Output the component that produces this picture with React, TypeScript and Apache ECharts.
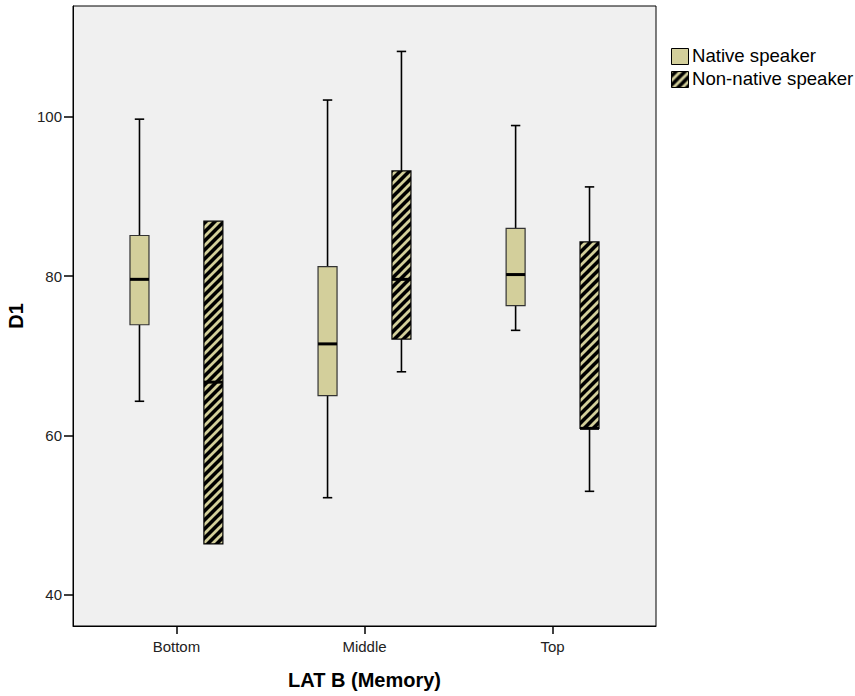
import React, { useEffect, useRef } from "react";
import * as echarts from "echarts";

const categories = ["Bottom", "Middle", "Top"];
const categoryPositions = [1, 2, 3];
// [min, Q1, median, Q3, max]
const nativeStats = [
  [64.3, 73.9, 79.6, 85.1, 99.7],
  [52.2, 65.0, 71.5, 81.2, 102.1],
  [73.2, 76.3, 80.2, 86.0, 98.9],
];
const nonNativeStats = [
  [46.4, 46.4, 66.7, 86.9, 86.9],
  [68.0, 72.1, 79.6, 93.2, 108.2],
  [53.0, 60.9, 60.9, 84.3, 91.2],
];
const yTicks = [40, 60, 80, 100];
const seriesNames = ["Native speaker", "Non-native speaker"];

const KHAKI = "#d3cf9b";
const FONT = "'Liberation Sans', Arial, Helvetica, sans-serif";

function makeHatch(): HTMLCanvasElement {
  const n = 9;
  const c = document.createElement("canvas");
  c.width = n;
  c.height = n;
  const ctx = c.getContext("2d")!;
  ctx.fillStyle = "#000";
  ctx.fillRect(0, 0, n, n);
  ctx.strokeStyle = KHAKI;
  ctx.lineWidth = 2.8;
  ctx.lineCap = "square";
  const seg = (x1: number, y1: number, x2: number, y2: number) => {
    ctx.beginPath();
    ctx.moveTo(x1, y1);
    ctx.lineTo(x2, y2);
    ctx.stroke();
  };
  seg(-2, n + 2, n + 2, -2);
  seg(-2, 2, 2, -2);
  seg(n - 2, n + 2, n + 2, n - 2);
  return c;
}

export default function App() {
  const ref = useRef<HTMLDivElement>(null);
  useEffect(() => {
    if (!ref.current) return;
    const chart = echarts.init(ref.current, undefined, { renderer: "svg" });
    const hatch = makeHatch();
    const hatchFill: any = { image: hatch, repeat: "repeat" };
    const OFFSET = 0.1965;
    const BOX_W = 0.101;
    const CAP_W = 0.05;

    const makeSeries = (name: string, stats: number[][], offset: number, fill: any, stroke: string) => ({
      type: "custom",
      name,
      data: stats.map((s, i) => [categoryPositions[i], ...s]),
      renderItem: (params: any, api: any) => {
        const x = api.value(0) + offset;
        const vMin = api.value(1);
        const vQ1 = api.value(2);
        const vMed = api.value(3);
        const vQ3 = api.value(4);
        const vMax = api.value(5);
        const [xc, yMin] = api.coord([x, vMin]);
        const yQ1 = api.coord([x, vQ1])[1];
        const yMed = api.coord([x, vMed])[1];
        const yQ3 = api.coord([x, vQ3])[1];
        const yMax = api.coord([x, vMax])[1];
        const hw = api.size([BOX_W, 0])[0] / 2;
        const cw = api.size([CAP_W, 0])[0] / 2;
        const lineStyle = { stroke: "#000", lineWidth: 1.6 };
        const children: any[] = [];
        if (vMax > vQ3) {
          children.push({ type: "line", shape: { x1: xc, y1: yMax, x2: xc, y2: yQ3 }, style: lineStyle });
          children.push({ type: "line", shape: { x1: xc - cw, y1: yMax, x2: xc + cw, y2: yMax }, style: lineStyle });
        }
        if (vMin < vQ1) {
          children.push({ type: "line", shape: { x1: xc, y1: yQ1, x2: xc, y2: yMin }, style: lineStyle });
          children.push({ type: "line", shape: { x1: xc - cw, y1: yMin, x2: xc + cw, y2: yMin }, style: lineStyle });
        }
        children.push({
          type: "rect",
          shape: { x: xc - hw, y: yQ3, width: hw * 2, height: yQ1 - yQ3 },
          style: { fill, stroke, lineWidth: 1.2 },
        });
        children.push({
          type: "line",
          shape: { x1: xc - hw, y1: yMed, x2: xc + hw, y2: yMed },
          style: { stroke: "#000", lineWidth: 3 },
        });
        return { type: "group", children };
      },
      z: 5,
    });

    chart.setOption({
      animation: false,
      backgroundColor: "#fff",
      textStyle: { fontFamily: FONT },
      grid: {
        left: 73,
        top: 6,
        right: 199,
        bottom: 70,
        show: true,
        backgroundColor: "#f0f0f0",
        borderColor: "#000",
        borderWidth: 1,
        outerBoundsMode: "none",
      },
      xAxis: {
        type: "value",
        min: 0.45,
        max: 3.55,
        name: "LAT B (Memory)",
        nameLocation: "middle",
        nameGap: 44,
        nameTextStyle: { fontSize: 20, fontWeight: "bold", color: "#000", fontFamily: FONT },
        axisLine: { show: true, onZero: false, lineStyle: { color: "#000", width: 1 } },
        axisTick: { show: true, length: 8, customValues: categoryPositions, lineStyle: { color: "#000", width: 1.5 } },
        axisLabel: {
          show: true,
          customValues: categoryPositions,
          margin: 13,
          fontSize: 15,
          color: "#222",
          fontFamily: FONT,
          formatter: (v: number) => categories[Math.round(v) - 1] ?? "",
        },
        splitLine: { show: false },
      },
      yAxis: {
        type: "value",
        min: 36.1,
        max: 113.9,
        name: "D1",
        nameLocation: "middle",
        nameGap: 45,
        nameRotate: 90,
        nameTextStyle: { fontSize: 20, fontWeight: "bold", color: "#000", fontFamily: FONT },
        axisLine: { show: true, onZero: false, lineStyle: { color: "#000", width: 1 } },
        axisTick: { show: true, length: 9, customValues: yTicks, lineStyle: { color: "#000", width: 1.5 } },
        axisLabel: { show: true, customValues: yTicks, margin: 11, fontSize: 15, color: "#222", fontFamily: FONT },
        splitLine: { show: false },
      },
      series: [
        makeSeries(seriesNames[0], nativeStats, -OFFSET, KHAKI, "#333"),
        makeSeries(seriesNames[1], nonNativeStats, OFFSET, hatchFill, "#000"),
      ],
      graphic: [
        { type: "rect", left: 671, top: 48, shape: { width: 17, height: 16 }, style: { fill: KHAKI, stroke: "#000", lineWidth: 1 } },
        { type: "text", left: 692, top: 46, style: { text: seriesNames[0], font: `18.6px ${FONT}`, fill: "#000" } },
        { type: "rect", left: 671, top: 71, shape: { width: 17, height: 16 }, style: { fill: hatchFill, stroke: "#000", lineWidth: 1 } },
        { type: "text", left: 692, top: 69, style: { text: seriesNames[1], font: `18.6px ${FONT}`, fill: "#000" } },
      ],
    });
    return () => chart.dispose();
  }, []);
  return (
    <div
      ref={ref}
      style={{ position: "absolute", left: 0, top: 0, width: 855, height: 696, background: "#fff" }}
    />
  );
}
